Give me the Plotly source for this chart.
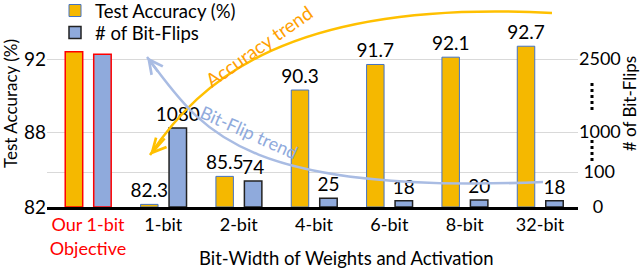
import numpy as np
import plotly.graph_objects as go

# ---------------- data ----------------
categories = ["Our 1-bit Objective", "1-bit", "2-bit", "4-bit", "6-bit", "8-bit", "32-bit"]
tick_labels = ["<span style='color:#FF0000'>Our 1-bit</span><br><span style='color:#FF0000'>Objective</span>",
               "1-bit", "2-bit", "4-bit", "6-bit", "8-bit", "32-bit"]
accuracy = [92.4, 82.3, 85.5, 90.3, 91.7, 92.1, 92.7]      # Test Accuracy (%)
bit_flips = [2600, 1080, 74, 25, 18, 20, 18]                # # of Bit-Flips

acc_tick_values = [82, 86, 88, 92]
acc_tick_text = ["82", "", "88", "92"]
bf_tick_values = [0, 100, 1000, 2500]
bf_tick_text = ["\u00a0\u00a0\u00a00", "\u00a0100", "1000", "2500"]

# broken (piecewise) axis layout shared by both value axes
axis_positions = [0, 35, 75, 148]
Y_RANGE = [0, 207]


def to_axis(values, knots):
    v = np.asarray(values, dtype=float)
    d = np.interp(v, knots, axis_positions)
    slope = (axis_positions[-1] - axis_positions[-2]) / (knots[-1] - knots[-2])
    return np.where(v > knots[-1], axis_positions[-1] + (v - knots[-1]) * slope, d)


acc_pos = to_axis(accuracy, acc_tick_values)
bf_pos = to_axis(bit_flips, bf_tick_values)

GOLD = "#F5B800"
BLUE = "#8FAADC"
FONT = "Lato"

# plot-area geometry (pixels) for decorations
L, R, T, B = 47, 578, 0, 207
def px(x):
    return (x - L) / (R - L)
def py(y):
    return (B - y) / (B - T)

fig = go.Figure()

bar_w = 0.232
acc_off = -0.302
bf_off = 0.076

fig.add_trace(go.Bar(
    x=categories[1:], y=acc_pos[1:], name="Test Accuracy (%)", legend="legend",
    text=[f"{v:g}" for v in accuracy[1:]], textposition="outside",
    textfont=dict(size=19, color="black", family=FONT),
    marker=dict(color=GOLD, line=dict(color="#4472C4", width=1)),
    width=bar_w, offset=acc_off, cliponaxis=False, constraintext="none",
))
fig.add_trace(go.Bar(
    x=categories[1:], y=bf_pos[1:], name="# of Bit-Flips", yaxis="y2", legend="legend2",
    text=[f"{v:g}" for v in bit_flips[1:]], textposition="outside",
    textfont=dict(size=19, color="black", family=FONT),
    marker=dict(color=BLUE, line=dict(color="#222222", width=1.5)),
    width=bar_w, offset=bf_off, cliponaxis=False, constraintext="none",
))
fig.add_trace(go.Bar(
    x=categories[:1], y=acc_pos[:1], showlegend=False,
    marker=dict(color=GOLD, line=dict(color="#FF0000", width=1.5)),
    width=bar_w, offset=acc_off,
))
fig.add_trace(go.Bar(
    x=categories[:1], y=bf_pos[:1], showlegend=False, yaxis="y2",
    marker=dict(color=BLUE, line=dict(color="#FF0000", width=1.5)),
    width=bar_w, offset=bf_off,
))

# trend curves (decorations)
def path(p0, c1, c2, p3):
    return (f"M {px(p0[0])},{py(p0[1])} C {px(c1[0])},{py(c1[1])} "
            f"{px(c2[0])},{py(c2[1])} {px(p3[0])},{py(p3[1])}")

shapes = [
    dict(type="path", xref="paper", yref="paper",
         path=path((150, 155), (200, 80), (290, -1), (552, 13)),
         line=dict(color="#FFC000", width=2.5)),
    dict(type="path", xref="paper", yref="paper",
         path=path((147, 57), (200, 125), (230, 195), (543, 182)),
         line=dict(color="#A9BCE3", width=2.5)),
    # axis-break dots on the right axis
    dict(type="line", xref="paper", yref="paper", x0=px(592), x1=px(592), y0=py(83), y1=py(110),
         line=dict(color="black", width=3, dash="dot")),
    dict(type="line", xref="paper", yref="paper", x0=px(592), x1=px(592), y0=py(140), y1=py(164),
         line=dict(color="black", width=3, dash="dot")),
]

annotations = [
    dict(xref="paper", yref="paper", x=px(150), y=py(155), ax=16, ay=-18, text="",
         showarrow=True, arrowhead=5, arrowsize=1.1, arrowwidth=2.5, arrowcolor="#FFC000"),
    dict(xref="paper", yref="paper", x=px(147), y=py(57), ax=12, ay=16, text="",
         showarrow=True, arrowhead=5, arrowsize=1.1, arrowwidth=2.5, arrowcolor="#A9BCE3"),
    dict(xref="paper", yref="paper", x=px(258), y=py(46), text="Accuracy trend", showarrow=False,
         xanchor="center", yanchor="middle",
         textangle=-35, font=dict(size=19, color="#FFA000", family=FONT)),
    dict(xref="paper", yref="paper", x=px(249), y=py(132), text="Bit-Flip trend", showarrow=False,
         xanchor="center", yanchor="middle",
         textangle=24, font=dict(size=18, color="#8FAADC", family=FONT)),
    dict(xref="paper", yref="paper", x=px(346), y=py(258), text="Bit-Width of Weights and Activation",
         xanchor="center", yanchor="middle",
         showarrow=False, font=dict(size=18.5, color="black", family=FONT)),
]

fig.update_layout(
    width=640, height=272,
    margin=dict(l=L, r=640 - R, t=T, b=272 - B, autoexpand=False),
    paper_bgcolor="white", plot_bgcolor="white",
    font=dict(family=FONT, size=17, color="black"),
    barmode="group",
    showlegend=True,
    legend=dict(x=px(55), y=py(11), xanchor="left", yanchor="middle",
                font=dict(size=18.5, family=FONT), bgcolor="rgba(0,0,0,0)"),
    legend2=dict(x=px(55), y=py(33), xanchor="left", yanchor="middle",
                 font=dict(size=18.5, family=FONT), bgcolor="rgba(0,0,0,0)"),
    xaxis=dict(type="category", categoryorder="array", categoryarray=categories,
               tickvals=categories, ticktext=tick_labels, range=[-0.544, 6.504],
               showline=True, linecolor="black", linewidth=2.5, ticks="",
               showgrid=False, tickfont=dict(size=18, family=FONT), automargin=False),
    yaxis=dict(range=Y_RANGE, tickvals=axis_positions, ticktext=acc_tick_text,
               showgrid=True, gridcolor="#D9D9D9", gridwidth=1, zeroline=False,
               showline=False, ticks="", tickfont=dict(size=19, family=FONT), automargin=False,
               title=dict(text="Test Accuracy (%)", font=dict(size=17, family=FONT))),
    yaxis2=dict(range=Y_RANGE, overlaying="y", side="right", tickvals=axis_positions,
                ticktext=bf_tick_text, showgrid=False, zeroline=False, showline=False, ticks="",
                tickfont=dict(size=18, family=FONT), automargin=False,
                title=dict(text="# of Bit-Flips", font=dict(size=17, family=FONT))),
    shapes=shapes,
    annotations=annotations,
)

fig.write_html("out.html", config={"displayModeBar": False},
               post_script="document.body.style.margin='0';")
